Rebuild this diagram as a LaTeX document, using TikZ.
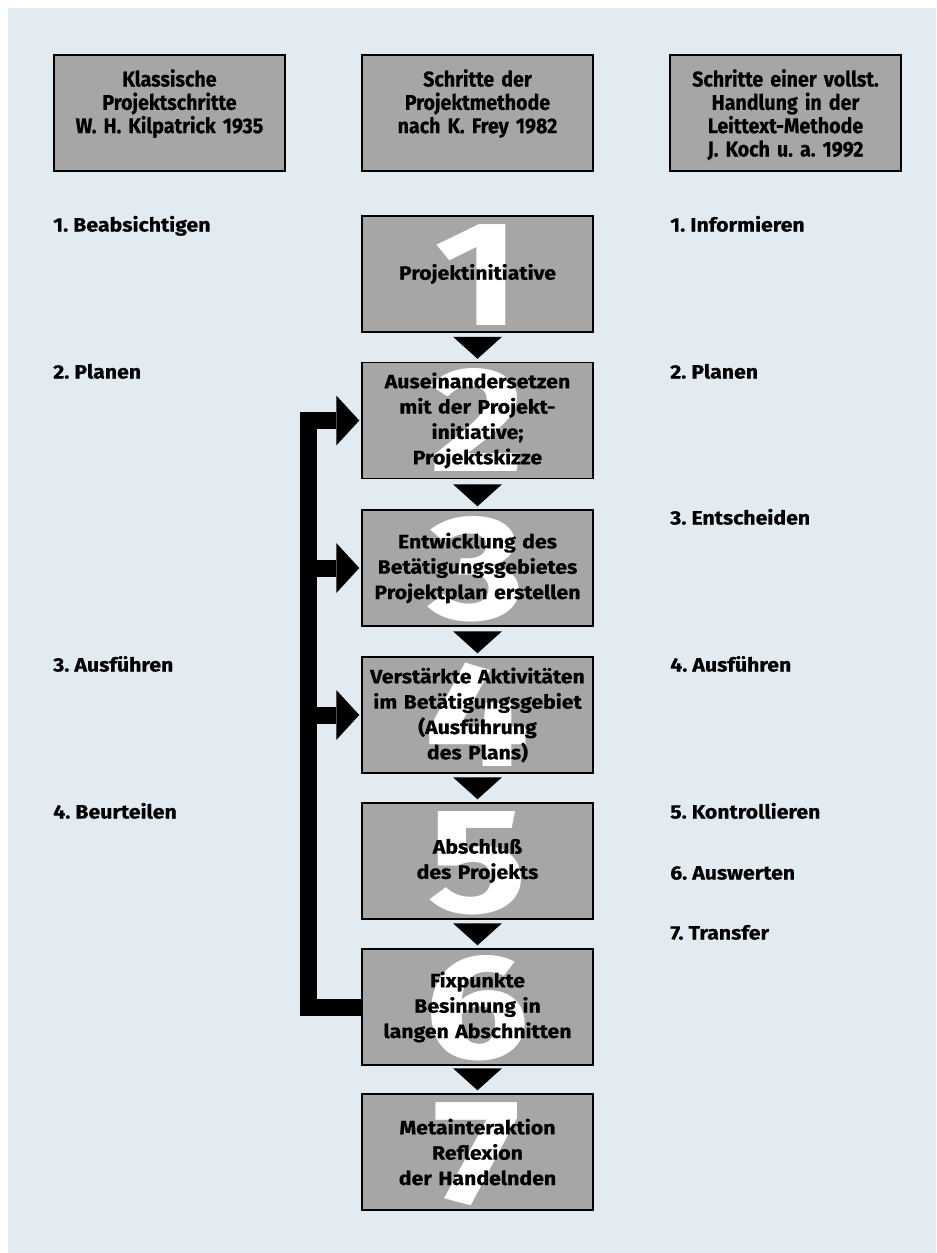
\documentclass[tikz,border=0pt]{standalone}
\usepackage{fontspec}
\setmainfont{Fira Sans}
\newfontfamily\kastenfont{Fira Sans}[FakeStretch=1.1, BoldFeatures={FakeBold=0.5}]
\newfontfamily\kopffont{Fira Sans}[FakeStretch=0.92, BoldFeatures={FakeBold=0.5}]
\newfontfamily\zifferfont{Fira Sans}[FakeStretch=1.25]
\usepackage{tikz}
\usetikzlibrary{arrows.meta,positioning}
\frenchspacing
\definecolor{hintergrund}{RGB}{226,234,242}
\definecolor{kasten}{RGB}{166,166,166}
\tikzset{
  kopf/.style={rectangle, draw=black, fill=kasten, line width=1.1pt, minimum width=173.25pt, minimum height=87pt, inner sep=0pt},
  kopftext/.style={text width=172pt, align=center, inner sep=0pt, font=\kopffont\fontsize{16}{17.5}\selectfont\bfseries},
  schritt/.style={rectangle, draw=black, fill=kasten, line width=1.1pt, minimum width=173.25pt, minimum height=87pt, inner sep=0pt, text width=172pt, align=center, font=\kastenfont\fontsize{14.5}{19}\selectfont\bfseries},
  ziffer/.style={anchor=base, inner sep=0pt, text=white, font=\zifferfont\fontsize{112}{112}\selectfont\bfseries},
  nr/.style={path picture={\node[ziffer] at ([yshift=5pt]path picture bounding box.south) {#1};}},
  stufe/.style={anchor=base west, inner sep=0pt, font=\kastenfont\fontsize{14.5}{19}\selectfont\bfseries},
  flow/.style={-{Triangle[length=16.5pt 0 0, width=36.75pt 0 0, line width=0pt 0 0]}, line width=0.01pt, shorten <=4.5pt, shorten >=2.25pt},
  feedback/.style={-{Triangle[length=17.25pt 0 0, width=37.5pt 0 0, line width=0pt 0 0]}, line width=12.75pt, line join=miter, shorten >=1.5pt},
}
\begin{document}
\begin{tikzpicture}[x=0.75pt, y=-0.75pt]
   \useasboundingbox (0,0) rectangle (936,1253);
   \fill[white] (0,0) rectangle (936,1253);
   \fill[hintergrund] (8,8) rectangle (936,1253);

   % Kopfzeile
   \node[kopf] (hA) at (169.5,113) {};
   \node[kopf] (hB) at (477.5,113) {};
   \node[kopf] (hC) at (785.5,113) {};
   \node[kopftext, below=11pt of hA.north, anchor=north] (tA) {Klassische\\Projektschritte\\W. H. Kilpatrick 1935};
   \node[kopftext, below=11pt of hB.north, anchor=north] (tB) {Schritte der\\Projektmethode\\nach K. Frey 1982};
   \node[kopftext, below=11pt of hC.north, anchor=north] (tC) {Schritte einer vollst.\\Handlung in der\\Leittext-Methode\\J. Koch u. a. 1992};

   % Schritte nach Frey
   \node[schritt, nr=1] (s1) at (477.5,274) {Projektinitiative};
   \node[schritt, nr=2] (s2) at (477.5,420.5) {Auseinandersetzen\\mit der Projekt-\\initiative;\\Projektskizze};
   \node[schritt, nr=3] (s3) at (477.5,568) {Entwicklung des\\Betätigungsgebietes\\Projektplan erstellen};
   \node[schritt, nr=4] (s4) at (477.5,715) {Verstärkte Aktivitäten\\im Betätigungsgebiet\\(Ausführung\\des Plans)};
   \node[schritt, nr=5] (s5) at (477.5,861) {Abschluß\\des Projekts};
   \node[schritt, nr=6] (s6) at (477.5,1007) {Fixpunkte\\Besinnung in\\langen Abschnitten};
   \node[schritt, nr=7] (s7) at (477.5,1152) {Metainteraktion\\Reflexion\\der Handelnden};

   % Kilpatrick
   \node[stufe] (kp1) at (53,231.5) {1. Beabsichtigen};
   \node[stufe] (kp2) at (53,378.5) {2. Planen};
   \node[stufe] (kp3) at (53,671.5) {3. Ausführen};
   \node[stufe] (kp4) at (53,818.5) {4. Beurteilen};

   % Leittext
   \node[stufe] (lt1) at (670,231.5) {1. Informieren};
   \node[stufe] (lt2) at (670,378.5) {2. Planen};
   \node[stufe] (lt3) at (670,524.5) {3. Entscheiden};
   \node[stufe] (lt4) at (670,671.5) {4. Ausführen};
   \node[stufe] (lt5) at (670,818.5) {5. Kontrollieren};
   \node[stufe] (lt6) at (670,879.5) {6. Auswerten};
   \node[stufe] (lt7) at (670,939.5) {7. Transfer};

  \path[flow]
    (s1) edge (s2)
    (s2) edge (s3)
    (s3) edge (s4)
    (s4) edge (s5)
    (s5) edge (s6)
    (s6) edge (s7);

   \coordinate (bar) at (308.5,0);
   \draw[feedback] (s6.west) -| (bar |- s2.west) -- (s2.west);
   \draw[feedback] (bar |- s3.west) -- (s3.west);
   \draw[feedback] (bar |- s4.west) -- (s4.west);
\end{tikzpicture}
\end{document}
